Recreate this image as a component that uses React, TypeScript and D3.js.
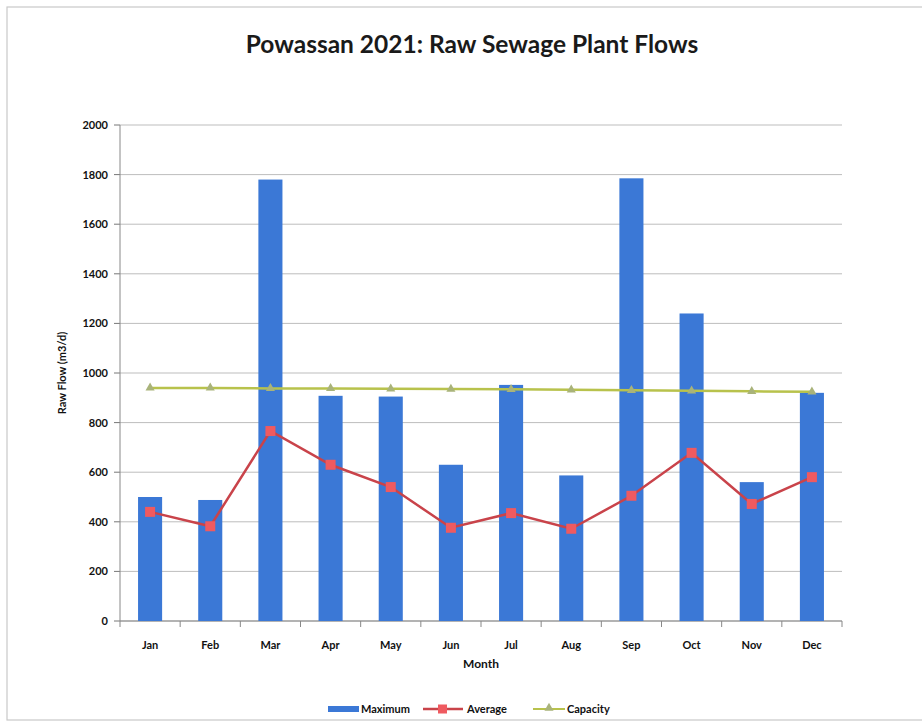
import React from "react";
import * as d3 from "d3";

const months = ["Jan", "Feb", "Mar", "Apr", "May", "Jun", "Jul", "Aug", "Sep", "Oct", "Nov", "Dec"];
const maximumFlow = [500, 488, 1780, 908, 905, 630, 952, 587, 1785, 1240, 560, 920];
const averageFlow = [440, 382, 766, 630, 540, 376, 435, 372, 505, 678, 472, 580];
const capacityFlow = [940, 940, 938, 938, 936, 935, 934, 932, 930, 928, 926, 924];
const yTicks = [0, 200, 400, 600, 800, 1000, 1200, 1400, 1600, 1800, 2000];

const W = 922;
const H = 727;
const plot = { left: 120, right: 842, top: 125, bottom: 621 };
const font = "Lato, 'Open Sans', sans-serif";

export default function App() {
  const x = d3.scaleBand<string>().domain(months).range([plot.left, plot.right]).paddingInner(0.6).paddingOuter(0.3);
  const xc = (m: string) => (x(m) as number) + x.bandwidth() / 2;
  const y = d3.scaleLinear().domain([0, 2000]).range([plot.bottom, plot.top]);
  const step = (plot.right - plot.left) / months.length;

  const avgLine = d3.line<number>().x((_, i) => xc(months[i])).y((d) => y(d));
  const capLine = d3.line<number>().x((_, i) => xc(months[i])).y((d) => y(d));

  const tri = d3.symbol(d3.symbolTriangle, 36)() as string;

  return (
    <svg width={W} height={H} style={{ position: "absolute", left: 0, top: 0, background: "#fff" }} fontFamily={font}>
      <rect x={7} y={7} width={W + 10} height={713} fill="#fff" stroke="#c9c9c9" strokeWidth={1.2} />
      <text x={472} y={53} textAnchor="middle" fontSize={24.5} fontWeight={700} fill="#1a1a1a">
        Powassan 2021: Raw Sewage Plant Flows
      </text>

      {/* grid and y ticks */}
      {yTicks.map((t) => (
        <g key={t}>
          <line x1={plot.left} x2={plot.right} y1={y(t)} y2={y(t)} stroke="#bdbdbd" strokeWidth={1} />
          <line x1={plot.left - 6} x2={plot.left} y1={y(t)} y2={y(t)} stroke="#777" strokeWidth={1} />
          <text x={plot.left - 12} y={y(t) + 4} textAnchor="end" fontSize={11} fontWeight={700} fill="#111">
            {t}
          </text>
        </g>
      ))}
      <line x1={plot.left} x2={plot.left} y1={plot.top} y2={plot.bottom} stroke="#888" />
      <line x1={plot.left} x2={plot.right} y1={plot.bottom} y2={plot.bottom} stroke="#888" />
      {d3.range(months.length + 1).map((i) => (
        <line key={i} x1={plot.left + i * step} x2={plot.left + i * step} y1={plot.bottom} y2={plot.bottom + 6} stroke="#888" />
      ))}

      {/* bars */}
      {maximumFlow.map((v, i) => (
        <rect key={months[i]} x={x(months[i])} y={y(v)} width={x.bandwidth()} height={y(0) - y(v)} fill="#3b78d6" />
      ))}

      {/* capacity */}
      <path d={capLine(capacityFlow) as string} fill="none" stroke="#b8c24c" strokeWidth={2.5} />
      {capacityFlow.map((v, i) => (
        <path key={i} d={tri} transform={`translate(${xc(months[i])},${y(v)})`} fill="#a9b37a" />
      ))}

      {/* average */}
      <path d={avgLine(averageFlow) as string} fill="none" stroke="#c9434a" strokeWidth={2.5} />
      {averageFlow.map((v, i) => (
        <rect key={i} x={xc(months[i]) - 5} y={y(v) - 5} width={10} height={10} fill="#ef5a60" />
      ))}

      {months.map((m) => (
        <text key={m} x={xc(m)} y={plot.bottom + 28} textAnchor="middle" fontSize={11} fontWeight={700} fill="#111">
          {m}
        </text>
      ))}
      <text x={481} y={668} textAnchor="middle" fontSize={12} fontWeight={700} fill="#111">Month</text>
      <text transform={`translate(66,${(plot.top + plot.bottom) / 2}) rotate(-90)`} textAnchor="middle" fontSize={11} fontWeight={700} fill="#111">
        Raw Flow (m3/d)
      </text>

      {/* legend */}
      <g fontSize={11} fontWeight={700} fill="#111">
        <rect x={328} y={706} width={31} height={6} fill="#3b78d6" />
        <text x={361} y={713}>Maximum</text>
        <line x1={423} x2={463} y1={709} y2={709} stroke="#c9434a" strokeWidth={2.5} />
        <rect x={438} y={704.5} width={9} height={9} fill="#ef5a60" />
        <text x={467} y={713}>Average</text>
        <line x1={533} x2={565} y1={709} y2={709} stroke="#b8c24c" strokeWidth={2} />
        <path d={tri} transform="translate(549,708)" fill="#a9b37a" />
        <text x={567} y={713}>Capacity</text>
      </g>
    </svg>
  );
}
